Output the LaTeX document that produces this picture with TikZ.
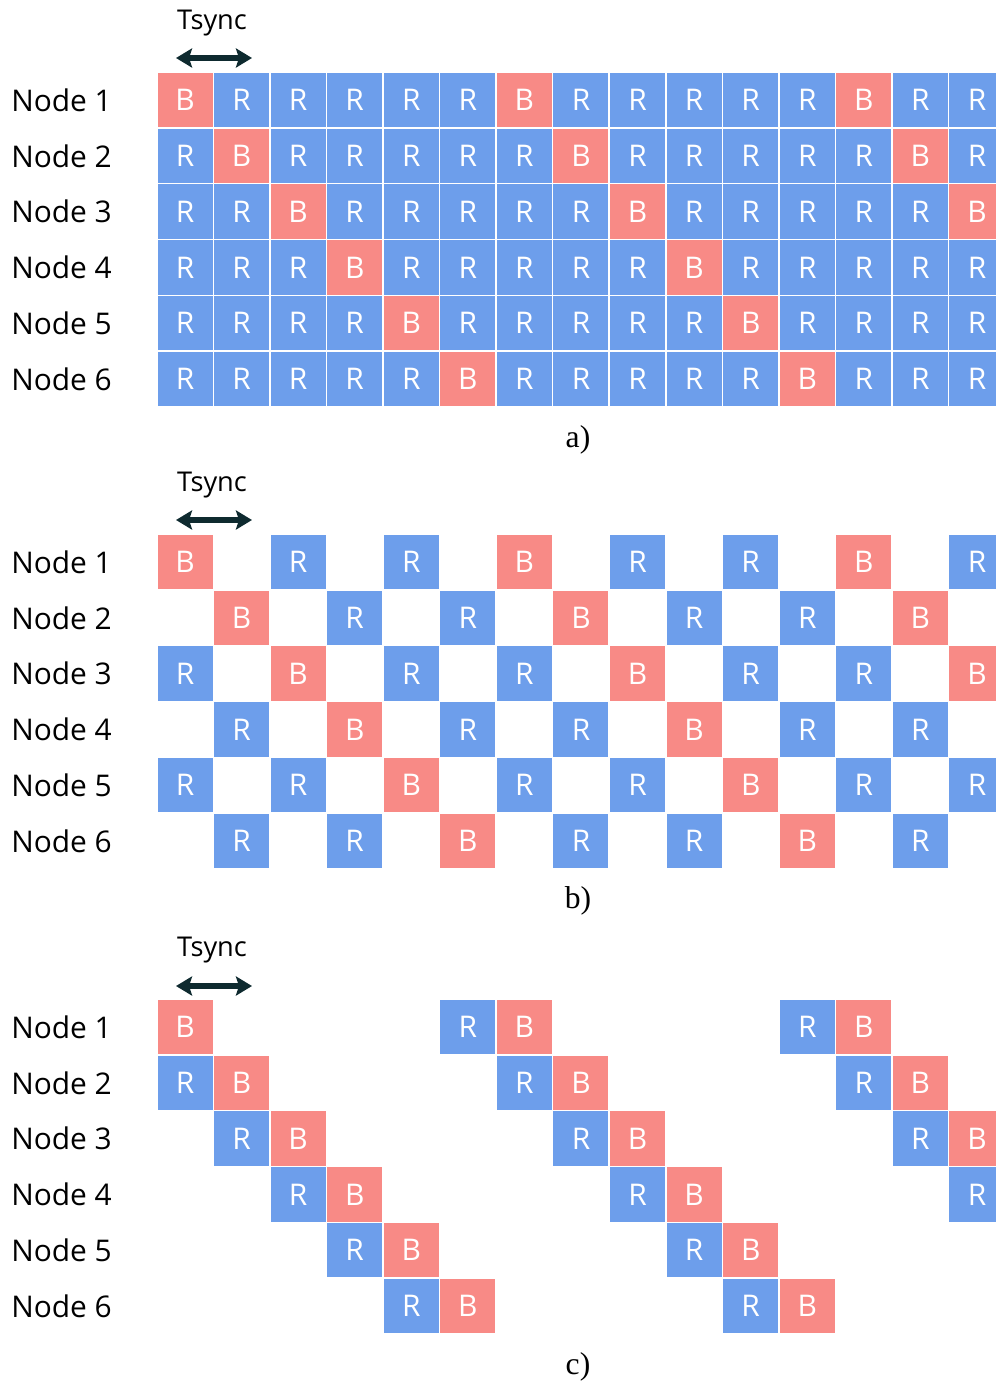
\documentclass[tikz,border=0pt]{standalone}
\usepackage{fontspec}
\setmainfont{Liberation Serif}
\newfontfamily\opensans{Open Sans}
\usetikzlibrary{arrows.meta}

\definecolor{slotblue}{HTML}{6D9EEB}
\definecolor{slotred}{HTML}{F88A86}
\definecolor{arrowdark}{HTML}{0E2A2F}

\tikzset{
  cell/.style={rectangle, fill=#1, text=white, minimum width=1.10cm, minimum height=1.09cm, inner sep=0pt, font=\opensans\fontsize{17}{20}\selectfont},
  nodelabel/.style={anchor=west, inner sep=0pt, font=\opensans\fontsize{17}{20}\selectfont},
  tlabel/.style={inner sep=0pt, font=\opensans\fontsize{15.5}{18}\selectfont},
  caption/.style={inner sep=0pt, font=\fontsize{18}{20}\selectfont},
  tarrow/.style={{Stealth[length=0.32cm, width=0.38cm, inset=0.06cm]}-{Stealth[length=0.32cm, width=0.38cm, inset=0.06cm]}, line width=3pt, draw=arrowdark},
}

\begin{document}
\begin{tikzpicture}
  \clip (0,0) rectangle (19.92,-27.7);

  % a) alle Slots belegt
  \node[tlabel] (tsync-a) at (4.24,-0.46) {Tsync};
  \coordinate (ta-l) at (3.52,-1.16);
  \coordinate (ta-r) at (5.04,-1.16);
  \draw[tarrow] (ta-l) -- (ta-r);
  \foreach \n in {1,...,6} {
    \node[nodelabel] (a-name-\n) at (0.22,{-2.00-(\n-1)*1.116}) {Node \n};
    \foreach \c in {1,...,15} {
      \pgfmathtruncatemacro{\d}{mod(\c-\n+12,6)}
      \ifnum\d=0 \def\col{slotred}\def\txt{B}\else \def\col{slotblue}\def\txt{R}\fi
      \node[cell=\col] (a-\n-\c) at ({3.70+(\c-1)*1.1314},{-2.00-(\n-1)*1.116}) {\txt};
    }
  }
  \node[caption] (cap-a) at (11.56,-8.80) {a)};

  % b) jeder zweite Slot
  \node[tlabel] (tsync-b) at (4.24,-9.70) {Tsync};
  \coordinate (tb-l) at (3.52,-10.40);
  \coordinate (tb-r) at (5.04,-10.40);
  \draw[tarrow] (tb-l) -- (tb-r);
  \foreach \n in {1,...,6} {
    \node[nodelabel] (b-name-\n) at (0.22,{-11.24-(\n-1)*1.116}) {Node \n};
    \foreach \c in {1,...,15} {
      \pgfmathtruncatemacro{\d}{mod(\c-\n+12,6)}
      \pgfmathtruncatemacro{\e}{mod(\c+\n,2)}
      \ifnum\d=0 \def\col{slotred}\def\txt{B}\else \def\col{slotblue}\def\txt{R}\fi
      \ifnum\e=0
        \node[cell=\col] (b-\n-\c) at ({3.70+(\c-1)*1.1314},{-11.24-(\n-1)*1.116}) {\txt};
      \fi
    }
  }
  \node[caption] (cap-b) at (11.56,-18.02) {b)};

  % c) Paare R-B diagonal
  \node[tlabel] (tsync-c) at (4.24,-19.00) {Tsync};
  \coordinate (tc-l) at (3.52,-19.72);
  \coordinate (tc-r) at (5.04,-19.72);
  \draw[tarrow] (tc-l) -- (tc-r);
  \foreach \n in {1,...,6} {
    \node[nodelabel] (c-name-\n) at (0.22,{-20.54-(\n-1)*1.116}) {Node \n};
    \foreach \c in {1,...,15} {
      \pgfmathtruncatemacro{\d}{mod(\c-\n+12,6)}
      \ifnum\d=0
        \node[cell=slotred] (c-\n-\c) at ({3.70+(\c-1)*1.1314},{-20.54-(\n-1)*1.116}) {B};
      \fi
      \ifnum\d=5
        \node[cell=slotblue] (c-\n-\c) at ({3.70+(\c-1)*1.1314},{-20.54-(\n-1)*1.116}) {R};
      \fi
    }
  }
  \node[caption] (cap-c) at (11.56,-27.34) {c)};
\end{tikzpicture}
\end{document}
